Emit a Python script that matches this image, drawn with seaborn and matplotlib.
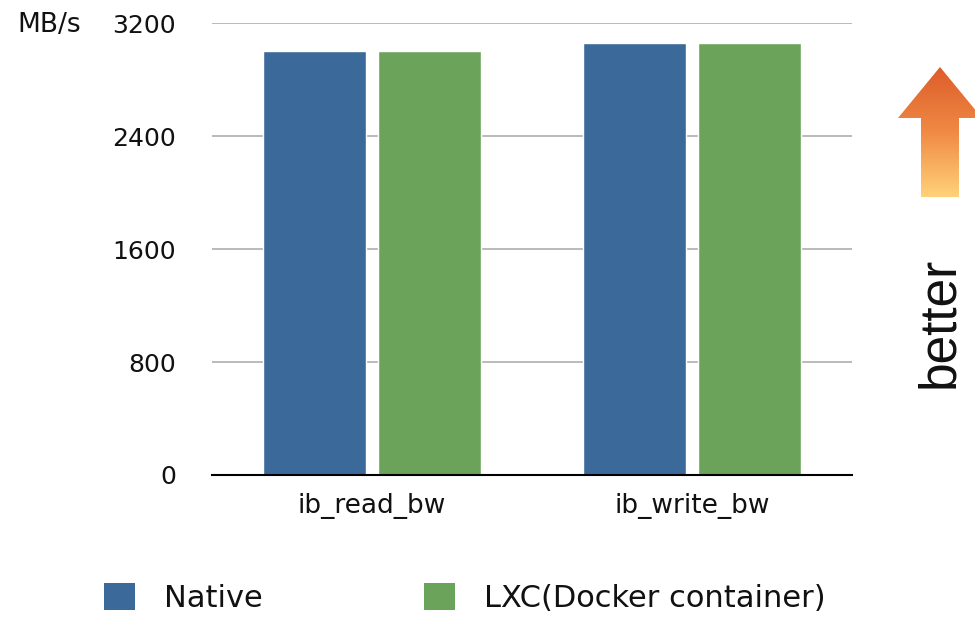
import numpy as np
import pandas as pd
import seaborn as sns
import matplotlib.pyplot as plt
from matplotlib.patches import Polygon, Patch
from matplotlib.colors import LinearSegmentedColormap

# data
tests = ['ib_read_bw', 'ib_write_bw']
native = [3006, 3063]
lxc = [3002, 3060]
series = ['Native', 'LXC(Docker container)']
yticks = [0, 800, 1600, 2400, 3200]

df = pd.DataFrame({
    'Test': tests * 2,
    'Value': native + lxc,
    'Env': [series[0]] * len(tests) + [series[1]] * len(tests),
})

sns.set_theme(style='white')
plt.rcParams['font.family'] = ['DejaVu Sans']

palette = {series[0]: '#3b6a9a', series[1]: '#6ba35a'}

fig = plt.figure(figsize=(9.75, 6.17), dpi=100)
ax = fig.add_axes([212 / 975, 1 - 475 / 617, 640 / 975, (475 - 23.3) / 617])

sns.barplot(data=df, x='Test', y='Value', hue='Env', palette=palette,
            width=0.72, gap=0.1, ax=ax, legend=False, saturation=1)

ax.set_ylim(0, 3200)
ax.set_xlim(-0.5, 1.5)
ax.set_yticks(yticks)
ax.set_yticklabels([str(t) for t in yticks])
ax.yaxis.grid(True, color='#b4b4b4', linewidth=1.3)
ax.set_axisbelow(True)
for s in ['left', 'right', 'top']:
    ax.spines[s].set_visible(False)
ax.spines['bottom'].set_color('black')
ax.spines['bottom'].set_linewidth(1.5)
ax.spines['bottom'].set_zorder(5)
ax.tick_params(axis='y', length=0, pad=26, labelsize=18, labelcolor='#111111')
ax.tick_params(axis='x', length=0, pad=13, labelsize=19, labelcolor='#111111')
ax.set_xlabel('')
ax.set_ylabel('')

fig.text(17 / 975, 1 - 25 / 617, 'MB/s', fontsize=19, ha='left', va='center',
         color='#111111')

handles = [Patch(facecolor=palette[s], edgecolor='none', label=s) for s in series]
fig.legend(handles=handles, loc='center left', bbox_to_anchor=(104 / 975, 1 - 598 / 617),
           ncol=2, frameon=False, fontsize=22, handlelength=1.0, handleheight=1.0,
           handletextpad=0.95, columnspacing=5.3, borderpad=0, borderaxespad=0,
           labelcolor='#111111')

# "better" arrow with orange gradient
ov = fig.add_axes([0, 0, 1, 1], zorder=10)
ov.axis('off')
pts = [(940, 67), (982, 118), (959, 118), (959, 197), (921, 197), (921, 118), (898, 118)]
poly = Polygon(pts, closed=True, facecolor='none', edgecolor='none')
ov.add_patch(poly)
grad = np.linspace(0, 1, 256).reshape(-1, 1)
cmap = LinearSegmentedColormap.from_list('arr', ['#dd5c2a', '#f08a45', '#ffd27a'])
im = ov.imshow(grad, cmap=cmap, aspect='auto', extent=(895, 985, 197, 67))
im.set_clip_path(poly)
ov.set_xlim(0, 975)
ov.set_ylim(617, 0)

fig.text(940 / 975, 1 - 322 / 617, 'better', rotation=90, fontsize=37,
         family='Liberation Sans', ha='center', va='center', color='#111111')

fig.savefig('out.png', dpi=100)
